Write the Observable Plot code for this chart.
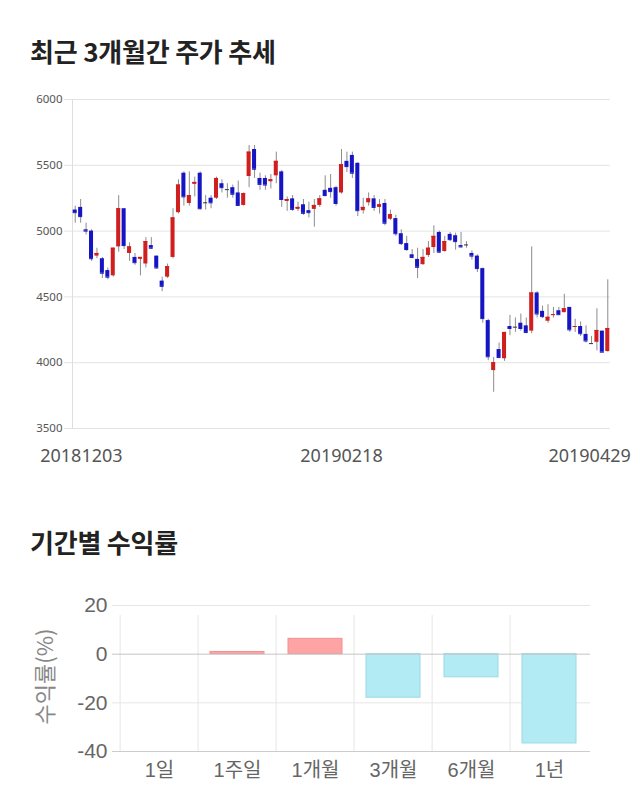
<!DOCTYPE html>
<html><head><meta charset="utf-8">
<script src="https://cdn.jsdelivr.net/npm/d3@7"></script>
<script src="https://cdn.jsdelivr.net/npm/@observablehq/plot@0.6"></script>
<style>
body{margin:0;background:#fff;width:640px;height:810px;position:relative;overflow:hidden;font-family:"Noto Sans CJK KR",sans-serif;}
.title{position:absolute;left:30px;font-size:26px;line-height:26px;font-weight:700;color:#222;letter-spacing:-0.2px;white-space:nowrap}
#t1{top:38px}
#t2{top:529px}
#c1{position:absolute;left:0;top:80px}
#c2{position:absolute;left:0;top:580px}
</style></head><body>
<div class="title" id="t1">최근 3개월간 주가 추세</div>
<div class="title" id="t2">기간별 수익률</div>
<div id="c1"></div>
<div id="c2"></div>
<script>
// ---- candlestick data (trading days 2018-12-03 .. 2019-04-29) ----
const dates = [
"20181203","20181204","20181205","20181206","20181207","20181210","20181211","20181212","20181213","20181214",
"20181217","20181218","20181219","20181220","20181221","20181224","20181226","20181227","20181228",
"20190102","20190103","20190104","20190107","20190108","20190109","20190110","20190111","20190114","20190115",
"20190116","20190117","20190118","20190121","20190122","20190123","20190124","20190125","20190128","20190129",
"20190130","20190131","20190201","20190207","20190208","20190211","20190212","20190213","20190214","20190215",
"20190218","20190219","20190220","20190221","20190222","20190225","20190226","20190227","20190228",
"20190304","20190305","20190306","20190307","20190308","20190311","20190312","20190313","20190314","20190315",
"20190318","20190319","20190320","20190321","20190322","20190325","20190326","20190327","20190328","20190329",
"20190401","20190402","20190403","20190404","20190405","20190408","20190409","20190410","20190411","20190412",
"20190415","20190416","20190417","20190418","20190419","20190422","20190423","20190424","20190425","20190426",
"20190429"];
const openP = [5160,5180,5010,5000,4810,4790,4700,4660,4880,5170,4830,4800,4785,4750,4890,4810,4620,4650,4800,
5140,5440,5210,5355,5440,5215,5250,5250,5360,5315,5330,5290,5195,5415,5620,5400,5400,5375,5420,5450,5225,5245,
5165,5200,5155,5165,5195,5310,5325,5330,5290,5530,5575,5515,5155,5215,5245,5180,
5210,5090,5095,4980,4905,4820,4785,4745,4815,4875,4990,4845,4975,4965,4890,4895,4830,4810,4715,4320,
3940,4100,4030,4275,4270,4300,4280,4240,4530,4390,4315,4360,4395,4380,4420,4270,4275,4215,4145,4155,4240,4085];
const highP = [5190,5240,5060,5010,4870,4800,4720,4870,5270,5170,4910,4830,4800,4950,4950,4810,4650,4750,5170,
5390,5450,5450,5410,5450,5270,5270,5410,5390,5360,5350,5380,5290,5650,5650,5440,5420,5430,5600,5460,5260,5270,
5220,5240,5220,5240,5270,5420,5430,5340,5620,5600,5600,5520,5250,5290,5270,5240,
5240,5160,5120,5010,4960,4860,4870,4860,4920,5040,5000,4960,4990,4985,4990,4920,4850,4820,4720,4330,
4040,4150,4230,4360,4340,4370,4340,4880,4540,4430,4440,4420,4420,4520,4420,4330,4310,4280,4200,4410,4240,4630];
const lowP = [5060,5060,4970,4770,4790,4640,4630,4650,4840,4860,4770,4740,4660,4720,4860,4710,4540,4640,4790,
5130,5190,5190,5260,5160,5160,5170,5240,5290,5250,5250,5190,5190,5330,5400,5310,5310,5320,5360,5180,5150,5150,
5150,5120,5100,5030,5180,5260,5250,5190,5280,5445,5400,5110,5130,5190,5150,5130,
5040,5080,4960,4890,4845,4790,4640,4740,4800,4830,4830,4840,4920,4855,4870,4870,4780,4685,4300,4015,
3775,4030,4010,4205,4230,4240,4220,4220,4340,4335,4300,4340,4360,4380,4230,4230,4200,4150,4140,4090,4080,4080];
const closeP = [5140,5110,5000,4790,4830,4680,4650,4870,5170,4890,4880,4760,4800,4920,4870,4720,4580,4730,5100,
5350,5260,5270,5370,5170,5215,5215,5400,5330,5315,5280,5195,5285,5600,5470,5355,5350,5390,5530,5240,5240,5165,
5180,5135,5140,5195,5245,5270,5300,5210,5505,5490,5440,5155,5180,5245,5180,5200,
5060,5125,4980,4905,4860,4800,4725,4800,4870,4960,4840,4920,4935,4920,4880,4895,4810,4715,4335,4045,
4000,4040,4230,4260,4270,4260,4230,4530,4370,4350,4345,4365,4365,4410,4250,4275,4220,4165,4145,4245,4080,4260];
const yTicks = [3500,4000,4500,5000,5500,6000];
const xLabels = ["20181203","20190218","20190429"];

// ---- period returns ----
const periods = ["1일","1주일","1개월","3개월","6개월","1년"];
const returns = [0, 0.9, 6.3, -17.9, -9.5, -36.7];
const retTicks = [20, 0, -20, -40];

const candles = dates.map((d,i)=>({date:d, open:openP[i], high:highP[i], low:lowP[i], close:closeP[i]}));
const candleColor = d => d.close > d.open ? "#d01f1f" : d.close < d.open ? "#1515c4" : "#333333";

const p1 = Plot.plot({
  width:640, height:400, marginTop:19, marginBottom:52, marginLeft:72, marginRight:30,
  x:{type:"band", domain:dates, padding:0, axis:null},
  y:{domain:[3500,6000], axis:null},
  color:{type:"identity"},
  style:{fontFamily:'"Noto Sans", "Noto Sans CJK KR", sans-serif', color:"#555", background:"#fff"},
  marks:[
    Plot.ruleY(yTicks, {stroke:"#e4e4e4", insetLeft:-8}),
    Plot.frame({anchor:"left", stroke:"#dedede"}),
    Plot.axisY(yTicks, {tickSize:0, tickPadding:10, fontSize:11.5, label:null, tickFormat:d=>String(d)}),
    Plot.ruleX(candles, {x:"date", y1:"low", y2:"high", stroke:"#8c8c8c", strokeWidth:1}),
    Plot.barY(candles, {x:"date", y1:"open", y2:"close", fill:candleColor, insetLeft:0.7, insetRight:0.7}),
    Plot.tickY(candles, {x:"date", y:"close", stroke:candleColor, insetLeft:0.7, insetRight:0.7}),
    Plot.text([xLabels[0]], {x:d=>d, text:d=>d, frameAnchor:"bottom", dy:33, textAnchor:"start", dx:-35, fontSize:18, fill:"#555"}),
    Plot.text([xLabels[1]], {x:d=>d, text:d=>d, frameAnchor:"bottom", dy:33, fontSize:18, fill:"#555"}),
    Plot.text([xLabels[2]], {x:d=>d, text:d=>d, frameAnchor:"bottom", dy:33, textAnchor:"end", dx:23, fontSize:18, fill:"#555"})
  ]
});
document.getElementById("c1").appendChild(p1);

const bars = periods.map((p,i)=>({period:p, value:returns[i]}));
const mL2 = 117, mR2 = 50;
const step2 = (640 - mL2 - mR2) / periods.length;
const p2 = Plot.plot({
  width:640, height:220, marginTop:25, marginBottom:49, marginLeft:mL2, marginRight:mR2,
  x:{domain:periods, paddingInner:0.31, paddingOuter:0.155, axis:null},
  y:{domain:[-40,20], axis:null},
  color:{type:"identity"},
  style:{fontFamily:'"Liberation Sans", "Noto Sans CJK KR", sans-serif', fontSize:"20px", color:"#666", background:"#fff"},
  marks:[
    Plot.ruleY([20,-20], {stroke:"#e6e6e6", insetLeft:-5}),
    Plot.ruleX(periods, {x:d=>d, y1:-40, y2:20, dx:-step2/2, insetBottom:-10, stroke:"#e6e6e6"}),
    Plot.barY(bars, {x:"period", y:"value", fill:d=>d.value>=0?"#ffa4a4":"#b2ebf3", stroke:d=>d.value>=0?"#f39090":"#9ad9e4", strokeWidth:1}),
    Plot.ruleY([0], {stroke:"#c4c4c4", insetLeft:-5}),
    Plot.ruleY([-40], {stroke:"#cccccc", insetLeft:-5}),
    Plot.axisY(retTicks, {tickSize:0, tickPadding:10, label:null, fontSize:21, tickFormat:d=>String(d)}),
    Plot.axisX({tickSize:0, tickPadding:11, label:null, fontSize:20}),
    Plot.text(["수익률(%)"], {frameAnchor:"left", text:d=>d, rotate:-90, dx:-72, dy:-2, textAnchor:"middle", fill:"#888", fontSize:22, fontFamily:'"Noto Sans CJK KR", sans-serif'})
  ]
});
document.getElementById("c2").appendChild(p2);
</script>
</body></html>
